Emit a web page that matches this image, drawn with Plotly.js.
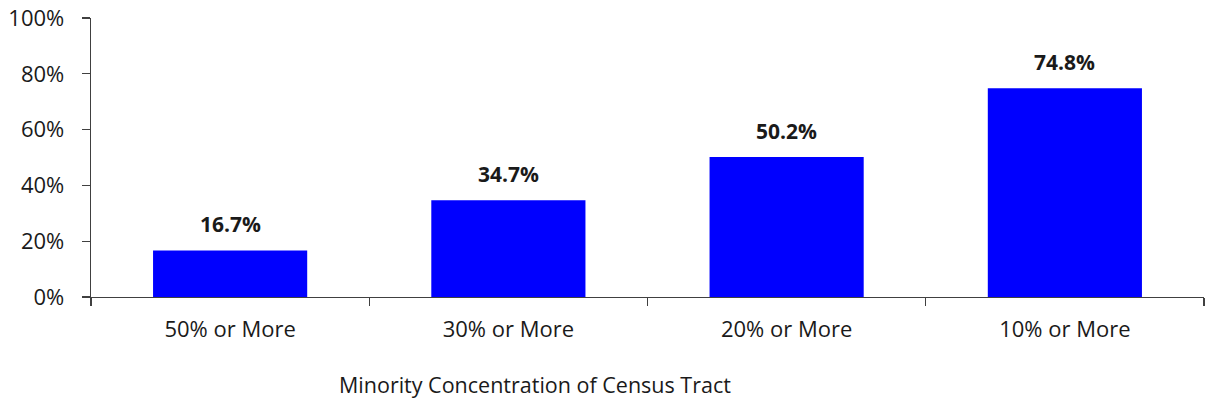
<!DOCTYPE html>
<html>
<head>
<meta charset="utf-8">
<script src="https://cdn.plot.ly/plotly-3.0.1.min.js"></script>
<style>html,body{margin:0;padding:0;background:#fff;}#chart{width:1207px;height:405px;}</style>
</head>
<body>
<div id="chart"></div>
<script>
const categories = ["50% or More", "30% or More", "20% or More", "10% or More"];
const values = [16.7, 34.7, 50.2, 74.8];
const valueLabels = ["16.7%", "34.7%", "50.2%", "74.8%"];
const yTickVals = [0, 20, 40, 60, 80, 100];
const yTickText = ["0%", "20%", "40%", "60%", "80%", "100%"];
const xTitle = "Minority Concentration of Census Tract";

const font = "Open Sans, Liberation Sans, sans-serif";
const fs = 22;

const trace = {
  type: "bar",
  x: categories,
  y: values,
  marker: {color: "#0000FF", line: {width: 0}},
  hoverinfo: "none"
};

const L = 91, R = 3, T = 18, B = 108, W = 1207, H = 405;

const annotations = categories.map((c, i) => ({
  x: c, y: values[i], xref: "x", yref: "y",
  text: "<b>" + valueLabels[i] + "</b>",
  showarrow: false, yanchor: "bottom", yshift: 10,
  font: {family: font, size: 21, color: "#1a1a1a"}
}));
annotations.push({
  x: (535 - L) / (W - L - R), y: (H - B - 385) / (H - T - B),
  xref: "paper", yref: "paper",
  text: xTitle, showarrow: false, xanchor: "center", yanchor: "middle",
  font: {family: font, size: 21.5, color: "#1a1a1a"}
});

const layout = {
  width: W, height: H,
  margin: {l: L, r: R, t: T, b: B, pad: 0},
  paper_bgcolor: "#ffffff", plot_bgcolor: "#ffffff",
  bargap: 0.446,
  showlegend: false,
  font: {family: font, size: fs, color: "#1a1a1a"},
  xaxis: {
    type: "category",
    showline: true, linecolor: "#404040", linewidth: 1.3,
    ticks: "outside", tickson: "boundaries", ticklen: 8, tickcolor: "#404040", tickwidth: 1.3,
    ticklabelstandoff: 12,
    showgrid: false, zeroline: false,
    tickfont: {family: font, size: fs, color: "#1a1a1a"}
  },
  yaxis: {
    range: [0, 100],
    tickvals: yTickVals, ticktext: yTickText,
    showline: true, linecolor: "#404040", linewidth: 1.3,
    ticks: "outside", ticklen: 8, tickcolor: "#404040", tickwidth: 1.3,
    ticklabelstandoff: 13,
    showgrid: false, zeroline: false,
    tickfont: {family: font, size: fs, color: "#1a1a1a"}
  },
  annotations: annotations
};

Plotly.newPlot("chart", [trace], layout, {staticPlot: true, displayModeBar: false});
</script>
</body>
</html>
